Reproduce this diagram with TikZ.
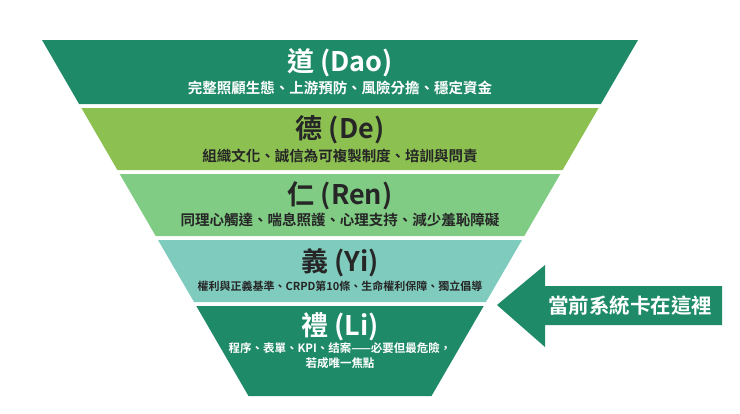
\documentclass[tikz,border=0pt]{standalone}
\usepackage{fontspec}
\setmainfont{Noto Sans CJK TC}[BoldFont={Noto Sans CJK TC Bold}]
\definecolor{dkg}{HTML}{1E8A67}
\definecolor{lime}{HTML}{8CC152}
\definecolor{lg}{HTML}{80CC84}
\definecolor{teal}{HTML}{7FCBBD}
\tikzset{band/.style={draw=none},
 ttl/.style={font=\bfseries\fontsize{27}{30}\selectfont},
 sub/.style={font=\bfseries\fontsize{14.5}{16}\selectfont, align=center}}
\begin{document}
\begin{tikzpicture}[x=1pt,y=-1pt]
\useasboundingbox (0,0) rectangle (740,413);
\fill[dkg] (42,40) -- (638,40) -- (600.9,104) -- (79.1,104) -- cycle;
\fill[lime] (81.4,108) -- (598.6,108) -- (562.6,170) -- (117.4,170) -- cycle;
\fill[lg] (119.7,174) -- (560.3,174) -- (524.3,236) -- (155.7,236) -- cycle;
\fill[teal] (158,240) -- (522,240) -- (486,302) -- (194,302) -- cycle;
\fill[dkg] (196.3,306) -- (483.7,306) -- (431.5,396) -- (248.5,396) -- cycle;
\node[ttl,text=white] (t1) at (340,63) {道 (Dao)};
\node[sub,text=white] (s1) at (340,88) {完整照顧生態、上游預防、風險分擔、穩定資金};
\node[ttl,text=black!85] (t2) at (340,130) {德 (De)};
\node[sub,text=black!85] (s2) at (340,156) {組織文化、誠信為可複製制度、培訓與問責};
\node[ttl,text=black!85] (t3) at (340,196) {仁 (Ren)};
\node[sub,text=black!85] (s3) at (340,220) {同理心觸達、喘息照護、心理支持、減少羞恥障礙};
\node[ttl,text=black!85] (t4) at (340,263) {義 (Yi)};
\node[sub,text=black!85,font=\bfseries\fontsize{11}{13}\selectfont] (s4) at (340,286) {權利與正義基準、CRPD第10條、生命權利保障、獨立倡導};
\node[ttl,text=white] (t5) at (340,327) {禮 (Li)};
\node[sub,text=white,font=\bfseries\fontsize{11.5}{15}\selectfont] (s5) at (340,356) {程序、表單、KPI、结案——必要但最危險，\\若成唯一焦點};
\fill[dkg] (497,305) -- (545,265) -- (545,286) -- (722,286) -- (722,325) -- (545,325) -- (545,347) -- cycle;
\node[text=white,font=\bfseries\fontsize{20.5}{24}\selectfont] (a) at (630,306) {當前系統卡在這裡};
\end{tikzpicture}
\end{document}
